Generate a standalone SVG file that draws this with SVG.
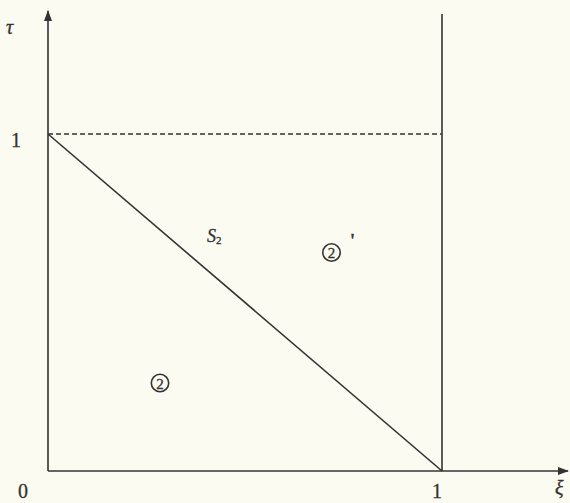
<svg xmlns="http://www.w3.org/2000/svg" width="570" height="503" viewBox="0 0 570 503">
<style>
.ax{stroke:#333;stroke-width:1.6;fill:none}
.t{font-family:"Liberation Serif",serif;fill:#333;stroke:#333;stroke-width:0.3}
.c{fill:none;stroke:#333;stroke-width:1.6}
</style>
<defs>
<marker id="ah" markerWidth="11" markerHeight="8" refX="10" refY="4" orient="auto" markerUnits="userSpaceOnUse">
<path d="M0,0 L11,4 L0,8 z" fill="#333"/>
</marker>
</defs>
<rect width="570" height="503" fill="#fbfbf1"/>
<g id="connectors">
<line class="ax" x1="48" y1="471" x2="48" y2="11" marker-end="url(#ah)"/>
<line class="ax" x1="48" y1="471" x2="568" y2="471" marker-end="url(#ah)"/>
<line class="ax" x1="442" y1="14" x2="442" y2="471"/>
<line class="ax" x1="48" y1="134" x2="442" y2="134" stroke-dasharray="5,3" stroke-width="1.3"/>
<line class="ax" x1="48" y1="134" x2="442" y2="471"/>
</g>
<g id="labels">
<text class="t" x="6" y="34" font-size="20" font-style="italic">τ</text>
<text class="t" x="11" y="147" font-size="20">1</text>
<text class="t" x="18" y="498" font-size="20">0</text>
<text class="t" x="432" y="498" font-size="20">1</text>
<text class="t" x="555" y="495" font-size="20" font-style="italic">ξ</text>
<text class="t" x="207" y="242" font-size="18" font-style="italic">S<tspan font-size="11" dy="2" font-style="normal">2</tspan></text>
<text class="t" x="350" y="247" font-size="18" font-weight="bold">'</text>
</g>
<g id="r2a">
<circle class="c" cx="331.5" cy="252.5" r="8.7"/>
<text class="t" x="331.5" y="258" font-size="15" text-anchor="middle">2</text>
</g>
<g id="r2b">
<circle class="c" cx="160" cy="383" r="8.7"/>
<text class="t" x="160" y="388.5" font-size="15" text-anchor="middle">2</text>
</g>
</svg>
